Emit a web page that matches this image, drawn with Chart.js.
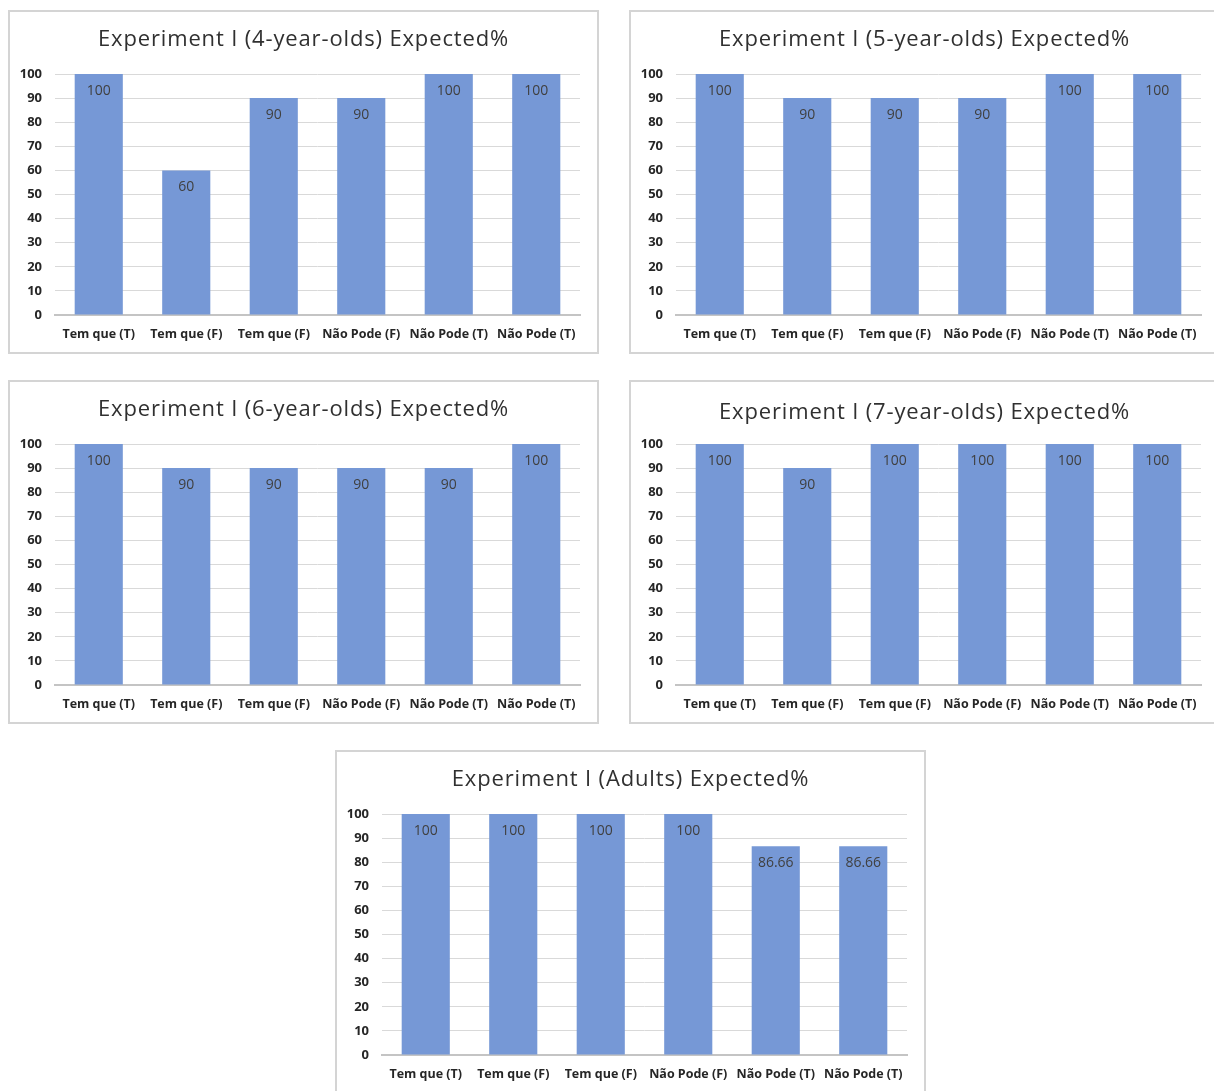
<!DOCTYPE html>
<html>
<head>
<meta charset="utf-8">
<script src="https://cdn.jsdelivr.net/npm/chart.js@4.4.1/dist/chart.umd.min.js"></script>
<style>
  html, body { margin: 0; padding: 0; background: #ffffff; width: 1214px; height: 1091px; overflow: hidden; position: relative; }
  .panel { position: absolute; width: 591px; height: 344px; box-sizing: border-box; border: 2px solid #d4d4d4; background: #fff; }
  .panel canvas { display: block; }
</style>
</head>
<body>
<div class="panel" style="left:8px; top:10px;"><canvas id="c1" width="587" height="340"></canvas></div>
<div class="panel" style="left:629px; top:10px;"><canvas id="c2" width="587" height="340"></canvas></div>
<div class="panel" style="left:8px; top:380px;"><canvas id="c3" width="587" height="340"></canvas></div>
<div class="panel" style="left:629px; top:380px;"><canvas id="c4" width="587" height="340"></canvas></div>
<div class="panel" style="left:335px; top:750px;"><canvas id="c5" width="587" height="340"></canvas></div>
<script>
// ---- Data ----
const categories = ["Tem que (T)", "Tem que (F)", "Tem que (F)", "Não Pode (F)", "Não Pode (T)", "Não Pode (T)"];
const titles = [
  "Experiment I (4-year-olds) Expected%",
  "Experiment I (5-year-olds) Expected%",
  "Experiment I (6-year-olds) Expected%",
  "Experiment I (7-year-olds) Expected%",
  "Experiment I (Adults) Expected%"
];
const values4yo = [100, 60, 90, 90, 100, 100];
const values5yo = [100, 90, 90, 90, 100, 100];
const values6yo = [100, 90, 90, 90, 90, 100];
const values7yo = [100, 90, 100, 100, 100, 100];
const valuesAdults = [100, 100, 100, 100, 86.66, 86.66];
const yTicks = [0, 10, 20, 30, 40, 50, 60, 70, 80, 90, 100];

const allValues = [values4yo, values5yo, values6yo, values7yo, valuesAdults];
const titleY = [28, 28, 28, 31, 28];

const barLabelPlugin = {
  id: 'barLabels',
  afterDatasetsDraw(chart) {
    const ctx = chart.ctx;
    const meta = chart.getDatasetMeta(0);
    const data = chart.data.datasets[0].data;
    ctx.save();
    ctx.font = '14px "Open Sans", "Liberation Sans", sans-serif';
    ctx.fillStyle = '#404040';
    ctx.textAlign = 'center';
    ctx.textBaseline = 'middle';
    meta.data.forEach((bar, i) => {
      ctx.fillText(String(data[i]), bar.x, bar.y + 17);
    });
    ctx.restore();
  }
};

// Title drawn with letter spacing (Chart.js title does not support it)
const spacedTitlePlugin = {
  id: 'spacedTitle',
  afterDraw(chart, args, opts) {
    const ctx = chart.ctx;
    ctx.save();
    ctx.font = '22px "Open Sans", "Liberation Sans", sans-serif';
    ctx.fillStyle = '#303030';
    ctx.textAlign = 'center';
    ctx.textBaseline = 'middle';
    if ('letterSpacing' in ctx) ctx.letterSpacing = '0.85px';
    ctx.fillText(opts.text, chart.width / 2, opts.y);
    ctx.restore();
  }
};

function makeChart(id, title, values, ty) {
  return new Chart(document.getElementById(id), {
    type: 'bar',
    data: {
      labels: categories,
      datasets: [{
        data: values,
        backgroundColor: '#7698d6',
        borderWidth: 0,
        barPercentage: 0.55,
        categoryPercentage: 1.0
      }]
    },
    options: {
      responsive: false,
      animation: false,
      devicePixelRatio: 1,
      layout: { padding: { left: 0, right: 17, top: 62, bottom: 0 } },
      plugins: {
        legend: { display: false },
        tooltip: { enabled: false },
        title: { display: false },
        spacedTitle: { text: title, y: ty }
      },
      scales: {
        x: {
          grid: { display: false, drawTicks: false },
          border: { display: true, color: '#c4c4c4', width: 2 },
          ticks: {
            color: '#262626',
            font: { family: '"Open Sans", "Liberation Sans", sans-serif', size: 12.5, weight: 'bold' },
            padding: 12,
            maxRotation: 0,
            autoSkip: false
          },
          afterFit(scale) { scale.height = 37; }
        },
        y: {
          min: 0,
          max: 100,
          afterBuildTicks(scale) { scale.ticks = yTicks.map(v => ({ value: v })); },
          grid: { color: '#d9d9d9', lineWidth: 1, drawTicks: false },
          border: { display: false },
          ticks: {
            color: '#262626',
            font: { family: '"Open Sans", "Liberation Sans", sans-serif', size: 13, weight: 'bold' },
            padding: 13
          },
          afterFit(scale) { scale.width = 45; }
        }
      }
    },
    plugins: [barLabelPlugin, spacedTitlePlugin]
  });
}

['c1', 'c2', 'c3', 'c4', 'c5'].forEach((id, i) => makeChart(id, titles[i], allValues[i], titleY[i]));
</script>
</body>
</html>
